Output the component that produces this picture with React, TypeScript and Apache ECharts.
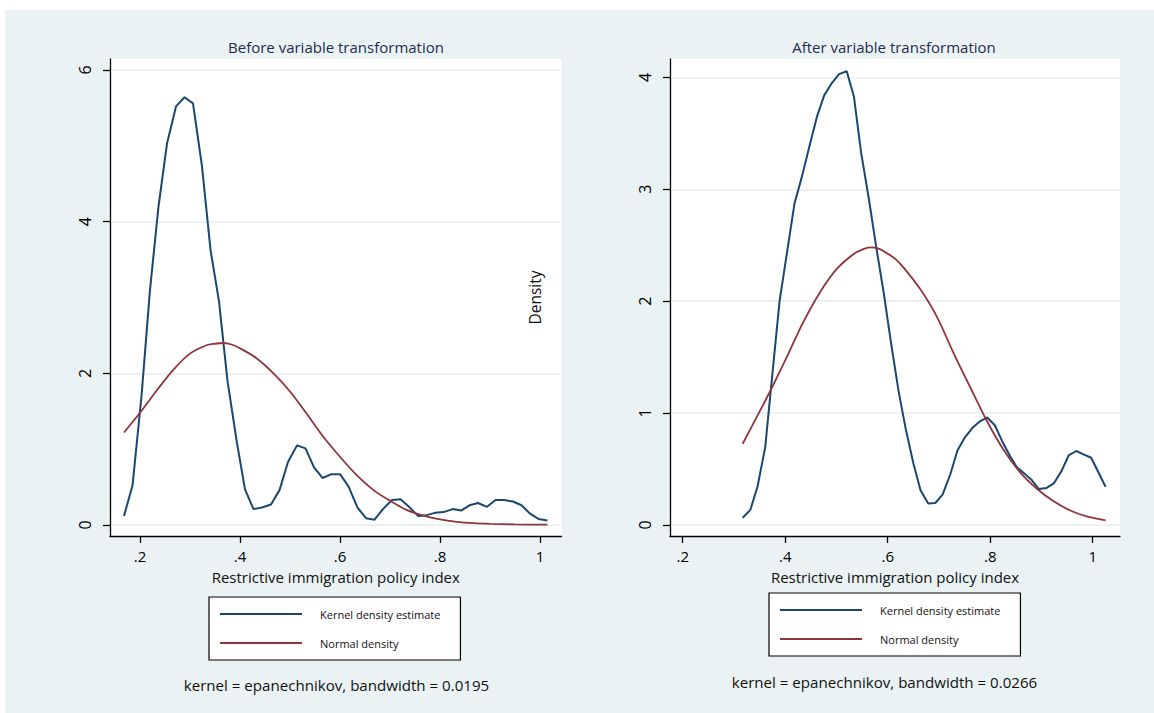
import React, { useEffect, useRef } from "react";
import * as echarts from "echarts";

// ---------- data ----------
const xTicks = [0.2, 0.4, 0.6, 0.8, 1];
const beforeYTicks = [0, 2, 4, 6];
const afterYTicks = [0, 1, 2, 3, 4];

const seriesNames = ["Kernel density estimate", "Normal density"];
const panelTitles = ["Before variable transformation", "After variable transformation"];
const xTitle = "Restrictive immigration policy index";
const yTitle = "Density";
const notes = [
  "kernel = epanechnikov, bandwidth = 0.0195",
  "kernel = epanechnikov, bandwidth = 0.0266",
];

const beforeX = [
  0.168, 0.185, 0.203, 0.22, 0.237, 0.254, 0.272, 0.289, 0.306, 0.324,
  0.341, 0.358, 0.375, 0.393, 0.41, 0.427, 0.444, 0.462, 0.479, 0.496,
  0.514, 0.531, 0.548, 0.565, 0.583, 0.6, 0.617, 0.635, 0.652, 0.669,
  0.686, 0.704, 0.721, 0.738, 0.756, 0.773, 0.79, 0.807, 0.825, 0.842,
  0.859, 0.876, 0.894, 0.911, 0.928, 0.946, 0.963, 0.98, 0.997, 1.015,
];
const beforeKde = [
  0.12, 0.52, 1.7, 3.1, 4.2, 5.03, 5.52, 5.64, 5.56, 4.73,
  3.63, 2.95, 1.9, 1.12, 0.47, 0.21, 0.23, 0.27, 0.46, 0.83,
  1.05, 1.01, 0.76, 0.62, 0.67, 0.67, 0.51, 0.23, 0.09, 0.07,
  0.21, 0.33, 0.34, 0.24, 0.12, 0.13, 0.16, 0.17, 0.21, 0.19,
  0.26, 0.29, 0.24, 0.33, 0.33, 0.31, 0.26, 0.15, 0.08, 0.06,
];
const beforeNormalX = [
  0.168, 0.2, 0.233, 0.267, 0.3, 0.333, 0.35, 0.367, 0.383, 0.4, 0.433, 0.467, 0.5,
  0.533, 0.567, 0.6, 0.633, 0.667, 0.7, 0.733, 0.767, 0.8, 0.833, 0.867, 0.9, 0.95, 1.015,
];
const beforeNormal = [
  1.22, 1.48, 1.77, 2.05, 2.26, 2.37, 2.39, 2.4, 2.38, 2.33, 2.2, 2.0, 1.76,
  1.47, 1.16, 0.9, 0.66, 0.46, 0.32, 0.2, 0.123, 0.073, 0.042, 0.024, 0.015, 0.008, 0.004,
];

const afterX = [
  0.317, 0.332, 0.346, 0.361, 0.375, 0.389, 0.404, 0.418, 0.433, 0.447,
  0.462, 0.476, 0.491, 0.505, 0.52, 0.534, 0.548, 0.563, 0.577, 0.592,
  0.606, 0.621, 0.635, 0.65, 0.664, 0.679, 0.693, 0.707, 0.722, 0.736,
  0.751, 0.765, 0.78, 0.794, 0.809, 0.823, 0.838, 0.852, 0.866, 0.881,
  0.895, 0.91, 0.924, 0.939, 0.953, 0.968, 0.982, 0.997, 1.011, 1.025,
];
const afterKde = [
  0.063, 0.134, 0.343, 0.695, 1.35, 2.0, 2.45, 2.87, 3.12, 3.38,
  3.65, 3.84, 3.95, 4.03, 4.055, 3.83, 3.33, 2.92, 2.5, 2.08,
  1.64, 1.2, 0.86, 0.55, 0.31, 0.19, 0.195, 0.27, 0.45, 0.665,
  0.785, 0.865, 0.925, 0.96, 0.89, 0.75, 0.62, 0.515, 0.46, 0.4,
  0.32, 0.33, 0.37, 0.48, 0.62, 0.66, 0.63, 0.6, 0.47, 0.34,
];
const afterNormalX = [
  0.317, 0.344, 0.37, 0.403, 0.435, 0.468, 0.501, 0.533, 0.55, 0.566, 0.582, 0.598, 0.614, 0.631,
  0.663, 0.696, 0.728, 0.761, 0.793, 0.826, 0.858, 0.891, 0.923, 0.956, 0.988, 1.025,
];
const afterNormal = [
  0.725, 0.96, 1.19, 1.5, 1.81, 2.08, 2.29, 2.42, 2.46, 2.48, 2.47, 2.43, 2.38, 2.3,
  2.11, 1.86, 1.54, 1.23, 0.933, 0.671, 0.471, 0.322, 0.212, 0.128, 0.075, 0.039,
];

// ---------- styling ----------
const FONT = "Open Sans";
const BLUE = "#1a476f";
const RED = "#90353b";
const INK = "#111111";
const TITLE_INK = "#1f2d4f";

const pair = (xs: number[], ys: number[]) => xs.map((x, i) => [x, ys[i]]);
const fmtX = (v: number) => (Math.abs(v - 1) < 1e-9 ? "1" : String(+v.toFixed(2)).replace(/^0/, ""));

const axisLineStyle = { color: "#000", width: 1.3 };

function makeXAxis(gridIndex: number, min: number, max: number) {
  return {
    type: "value",
    gridIndex,
    min,
    max,
    axisLine: { show: true, onZero: false, lineStyle: axisLineStyle },
    axisTick: { show: true, customValues: xTicks, length: 7, lineStyle: axisLineStyle },
    axisLabel: {
      customValues: xTicks,
      formatter: fmtX,
      fontSize: 15,
      lineHeight: 14,
      color: "#000",
      margin: 13,
      fontFamily: FONT,
    },
    splitLine: { show: false },
    name: xTitle,
    nameLocation: "middle",
    nameMoveOverlap: false,
    nameGap: 33,
    nameTextStyle: { fontSize: 15, lineHeight: 15, color: INK, fontFamily: FONT },
  };
}

function makeYAxis(gridIndex: number, min: number, max: number, ticks: number[], name?: string) {
  return {
    type: "value",
    gridIndex,
    min,
    max,
    axisLine: { show: true, onZero: false, lineStyle: axisLineStyle },
    axisTick: { show: true, customValues: ticks, length: 7, lineStyle: axisLineStyle },
    axisLabel: {
      customValues: ticks,
      rotate: 90,
      fontSize: 16,
      color: "#000",
      margin: 17,
      fontFamily: FONT,
      formatter: (v: number) => String(Math.round(v)),
    },
    splitLine: { show: true, lineStyle: { color: "#e4edf1", width: 1.5 } },
    name: name || "",
    nameLocation: "middle",
    nameRotate: 90,
    nameGap: 127,
    nameTextStyle: { fontSize: 15.5, color: INK, fontFamily: FONT },
  };
}

function makeLegend(left: number, top: number) {
  return {
    left,
    top,
    orient: "vertical",
    data: seriesNames,
    itemWidth: 82,
    itemHeight: 11,
    itemGap: 18,
    padding: [11.5, 20, 11.5, 10],
    borderColor: "#000",
    borderWidth: 1.2,
    backgroundColor: "#ffffff",
    selectedMode: false,
    itemStyle: { opacity: 0 },
    lineStyle: { width: 2 },
    textStyle: { fontSize: 11, color: INK, fontFamily: FONT, padding: [0, 0, 0, 13] },
  };
}

function lineSeries(name: string, data: number[][], idx: number, color: string, width: number, smooth: boolean | number) {
  return {
    type: "line",
    name,
    xAxisIndex: idx,
    yAxisIndex: idx,
    data,
    symbol: "none",
    showSymbol: false,
    smooth,
    lineStyle: { color, width },
    itemStyle: { color },
    emphasis: { disabled: true },
    animation: false,
  };
}

export default function App() {
  const ref = useRef<HTMLDivElement>(null);

  useEffect(() => {
    if (!ref.current) return;
    const chart = echarts.init(ref.current, undefined, { renderer: "svg" });
    const option = {
      animation: false,
      textStyle: { fontFamily: FONT },
      title: [
        {
          text: panelTitles[0], left: 336, top: 39, textAlign: "center", padding: 0,
          textStyle: { fontSize: 15, fontWeight: "normal", color: TITLE_INK, fontFamily: FONT },
        },
        {
          text: panelTitles[1], left: 894, top: 39, textAlign: "center", padding: 0,
          textStyle: { fontSize: 15, fontWeight: "normal", color: TITLE_INK, fontFamily: FONT },
        },
        {
          text: notes[0], left: 336.5, top: 677, textAlign: "center", padding: 0,
          textStyle: { fontSize: 15.1, fontWeight: "normal", color: INK, fontFamily: FONT },
        },
        {
          text: notes[1], left: 884.5, top: 674, textAlign: "center", padding: 0,
          textStyle: { fontSize: 15.1, fontWeight: "normal", color: INK, fontFamily: FONT },
        },
      ],
      legend: [makeLegend(209, 597), makeLegend(769, 593)],
      grid: [
        { left: 110, top: 59, width: 451.5, height: 477, show: true, backgroundColor: "#ffffff", borderWidth: 0 },
        { left: 670, top: 59, width: 450, height: 477, show: true, backgroundColor: "#ffffff", borderWidth: 0 },
      ],
      xAxis: [makeXAxis(0, 0.14, 1.043), makeXAxis(1, 0.1752, 1.0532)],
      yAxis: [
        makeYAxis(0, -0.145, 6.145, beforeYTicks),
        makeYAxis(1, -0.1, 4.165, afterYTicks, yTitle),
      ],
      series: [
        lineSeries(seriesNames[0], pair(beforeX, beforeKde), 0, BLUE, 2, false),
        lineSeries(seriesNames[1], pair(beforeNormalX, beforeNormal), 0, RED, 1.8, 0.3),
        lineSeries(seriesNames[0], pair(afterX, afterKde), 1, BLUE, 2, false),
        lineSeries(seriesNames[1], pair(afterNormalX, afterNormal), 1, RED, 1.8, 0.3),
      ],
    };
    chart.setOption(option as any);
    return () => chart.dispose();
  }, []);

  return (
    <div style={{ position: "absolute", left: 0, top: 0, width: 1154, height: 713, background: "#ffffff", overflow: "hidden" }}>
      <div style={{ position: "absolute", left: 5, top: 10, width: 1149, height: 703, background: "#eaf2f3" }} />
      <div ref={ref} style={{ position: "absolute", left: 0, top: 0, width: 1154, height: 713 }} />
    </div>
  );
}
